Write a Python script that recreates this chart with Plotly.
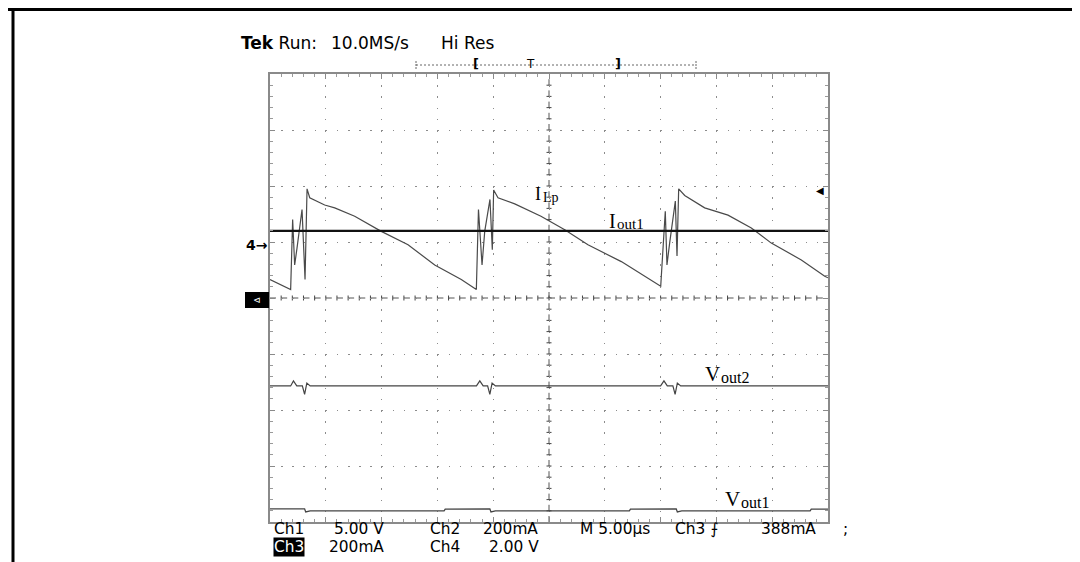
import plotly.graph_objects as go

# ---------------- data ----------------
# Channel 3 : inductor current I_Lp (mA), time in microseconds
T_LP = [0.0, 1.85, 2.03, 2.21, 2.42, 2.69, 2.87, 3.14, 3.32, 3.56, 4.90, 5.80, 7.59, 9.97,
        12.37, 14.76, 17.14, 18.49,
        18.68, 19.00, 19.24, 19.71, 19.92, 20.04, 20.43, 21.93, 24.28, 26.41, 28.49, 31.48, 35.01,
        35.42, 35.57, 35.81, 36.32, 36.47, 36.62, 37.16, 38.95, 41.04, 43.13, 44.92, 47.61, 49.71, 50.0]
I_LP = [66, 30, 280, 118, 178, 262, 316, 66, 390, 358, 332, 322, 292, 238,
        190, 118, 66, 30,
        316, 118, 238, 352, 172, 386, 358, 336, 292, 244, 190, 130, 42,
        310, 118, 196, 346, 150, 390, 366, 322, 296, 250, 196, 136, 78, 72]

# Channel 2 : output current I_out1 (mA)
T_IOUT1 = [0.0, 50.0]
I_OUT1 = [240, 240]

# Channel 4 : V_out2 (V)
T_VOUT2 = [0.0, 1.85, 2.1, 2.4, 2.9, 3.1, 3.3, 3.6, 18.5, 18.8, 19.1, 19.5, 19.7, 19.9, 20.2,
           35.0, 35.3, 35.6, 36.1, 36.3, 36.5, 36.8, 50.0]
V_OUT2 = [-5.04, -5.04, -4.86, -5.04, -5.04, -5.34, -4.94, -5.04, -5.04, -4.86, -5.04, -5.04,
          -5.34, -4.94, -5.04, -5.04, -4.86, -5.04, -5.04, -5.34, -4.94, -5.04, -5.04]

# Channel 1 : V_out1 (V)
T_VOUT1 = [0.0, 3.1, 3.2, 3.6, 15.6, 15.7, 19.7, 19.8, 20.2, 32.2, 32.3, 36.4, 36.5, 36.9,
           48.4, 48.5, 50.0]
V_OUT1 = [5.18, 5.18, 4.90, 5.00, 5.00, 5.15, 5.18, 4.90, 5.00, 5.00, 5.15, 5.18, 4.90, 5.00,
          5.00, 5.15, 5.15]

# scope settings (scale per division and ground position in divisions)
CH1_SCALE, CH1_POS = 5.0, -4.8
CH2_SCALE, CH2_POS = 200.0, 0.0
CH3_SCALE, CH3_POS = 200.0, 0.0
CH4_SCALE, CH4_POS = 2.0, 0.95
TIME_DIV = 5.0
N_XDIV, N_YDIV = 10, 8

READOUT_ROW1 = ["Ch1", "5.00 V", "Ch2", "200mA", "M 5.00µs", "Ch3 ⨍", "388mA", ";"]
READOUT_ROW2 = ["Ch3", "200mA", "Ch4", "2.00 V"]

# ---------------- layout geometry ----------------
W, H = 1080, 562
PL, PR, PT, PB = 262, 820, 66, 514


def px(x):
    return (x - PL) / (PR - PL)


def py(y):
    return (PB - y) / (PB - PT)


def yr(scale, pos):
    return [(-N_YDIV / 2 - pos) * scale, (N_YDIV / 2 - pos) * scale]


fig = go.Figure()
fig.add_trace(go.Scatter(x=T_LP, y=I_LP, mode="lines", yaxis="y",
                         line=dict(color="#4a4a4a", width=1.2), hoverinfo="skip"))
fig.add_trace(go.Scatter(x=T_IOUT1, y=I_OUT1, mode="lines", yaxis="y2",
                         line=dict(color="#111", width=2.2), hoverinfo="skip"))
fig.add_trace(go.Scatter(x=T_VOUT2, y=V_OUT2, mode="lines", yaxis="y3",
                         line=dict(color="#444", width=1.2), hoverinfo="skip"))
fig.add_trace(go.Scatter(x=T_VOUT1, y=V_OUT1, mode="lines", yaxis="y4",
                         line=dict(color="#444", width=1.3), hoverinfo="skip"))

GRID = "#8c8c8c"
axis_common = dict(showticklabels=False, showgrid=True, gridcolor=GRID, gridwidth=1,
                   zeroline=False, showline=True, linecolor="#8a8a8a", linewidth=2,
                   mirror="ticks", ticks="inside", ticklen=5, tickcolor="#8a8a8a",
                   tickwidth=1, fixedrange=True)

fig.update_layout(
    width=W, height=H, autosize=False,
    margin=dict(l=PL, r=W - PR, t=PT, b=H - PB, pad=0),
    paper_bgcolor="white", plot_bgcolor="white", showlegend=False,
    xaxis=dict(range=[0, N_XDIV * TIME_DIV], dtick=TIME_DIV, griddash="1.5px,9.7px",
               minor=dict(dtick=TIME_DIV / 5, ticks="inside", ticklen=3, tickcolor="#9a9a9a",
                          showgrid=False), **axis_common),
    yaxis=dict(range=yr(CH3_SCALE, CH3_POS), dtick=CH3_SCALE, griddash="1.5px,9.66px",
               minor=dict(dtick=CH3_SCALE / 5, ticks="inside", ticklen=3, tickcolor="#9a9a9a",
                          showgrid=False), **axis_common),
    yaxis2=dict(range=yr(CH2_SCALE, CH2_POS), overlaying="y", visible=False),
    yaxis3=dict(range=yr(CH4_SCALE, CH4_POS), overlaying="y", visible=False),
    yaxis4=dict(range=yr(CH1_SCALE, CH1_POS), overlaying="y", visible=False),
)

shapes = []
# centre cross lines (dashed) with small ticks every 0.2 div
shapes.append(dict(type="line", xref="paper", yref="paper", x0=0, x1=1, y0=0.5, y1=0.5,
                   line=dict(color="#555", width=1, dash="6px,5.16px"), layer="below"))
shapes.append(dict(type="line", xref="paper", yref="paper", x0=0.5, x1=0.5, y0=0, y1=1,
                   line=dict(color="#555", width=1, dash="6px,5.2px"), layer="below"))
hx = 2.5 / (PB - PT)
hy = 2.5 / (PR - PL)
for i in range(1, N_XDIV * 5):
    shapes.append(dict(type="line", xref="paper", yref="paper",
                       x0=i / (N_XDIV * 5), x1=i / (N_XDIV * 5), y0=0.5 - hx, y1=0.5 + hx,
                       line=dict(color="#444", width=1), layer="below"))
for i in range(1, N_YDIV * 5):
    shapes.append(dict(type="line", xref="paper", yref="paper",
                       y0=i / (N_YDIV * 5), y1=i / (N_YDIV * 5), x0=0.5 - hy, x1=0.5 + hy,
                       line=dict(color="#444", width=1), layer="below"))

# outer frame of the screenshot
shapes.append(dict(type="line", xref="paper", yref="paper", x0=px(0), x1=px(W),
                   y0=py(1.5), y1=py(1.5), line=dict(color="black", width=3)))
shapes.append(dict(type="line", xref="paper", yref="paper", x0=px(5), x1=px(5),
                   y0=py(0), y1=py(H), line=dict(color="black", width=3)))
shapes.append(dict(type="line", xref="paper", yref="paper", x0=px(1078), x1=px(1078),
                   y0=py(0), y1=py(H), line=dict(color="black", width=3)))

# record bar at top
shapes.append(dict(type="line", xref="paper", yref="paper", x0=px(408), x1=px(688),
                   y0=py(57), y1=py(57), line=dict(color="#666", width=1, dash="2px,2px")))
for xe in (408, 688):
    shapes.append(dict(type="line", xref="paper", yref="paper", x0=px(xe), x1=px(xe),
                       y0=py(53), y1=py(62), line=dict(color="#666", width=1, dash="2px,1px")))

# ch3 ground marker box
shapes.append(dict(type="rect", xref="paper", yref="paper", x0=px(237), x1=px(261),
                   y0=py(300), y1=py(284), fillcolor="black", line=dict(width=0)))
fig.update_layout(shapes=shapes)

ann = []
SANS = "DejaVu Sans"
SERIF = "Liberation Serif"


def text(x, y, s, size=15, family=SANS, color="black", xanchor="left", **kw):
    kw.setdefault("borderpad", 0)
    ann.append(dict(xref="paper", yref="paper", x=px(x), y=py(y), text=s, showarrow=False,
                    xanchor=xanchor, yanchor="middle",
                    font=dict(family=family, size=size, color=color), **kw))


text(232, 35, "<b>Tek</b> Run:", 17)
text(322, 35, "10.0MS/s", 17)
text(432, 35, "Hi Res", 17)
text(468, 56, "<b>[</b>", 13, xanchor="center")
text(522, 56, "T", 12, xanchor="center")
text(610, 56, "<b>]</b>", 13, xanchor="center")

# bottom readouts
RO = 15.4
row1_x = [265, 325, 421, 474, 571, 666, 752, 834]
for xx, s in zip(row1_x, READOUT_ROW1):
    text(xx, 521, s, RO)
row2_x = [320, 421, 480]
text(265, 539, READOUT_ROW2[0], RO, color="white", bgcolor="black")
for xx, s in zip(row2_x, READOUT_ROW2[1:]):
    text(xx, 539, s, RO)

# trace labels (main letter + subscript drawn separately, side by side)
text(526, 186, "I", 18, SERIF)
text(534, 189, "Lp", 14, SERIF)
text(600, 213, "I", 20, SERIF)
text(608, 216, "out1", 15, SERIF)
text(696, 366, "V", 21, SERIF)
text(712, 369, "out2", 16, SERIF)
text(716, 491, "V", 21, SERIF)
text(732, 494, "out1", 16, SERIF)

# channel markers
text(237, 237, "<b>4→</b>", 14)
text(249, 292, "⊲", 9, color="white", xanchor="center")
text(812, 182, "◀", 10, xanchor="center")

fig.update_layout(annotations=ann)
fig.write_html("out.html")
